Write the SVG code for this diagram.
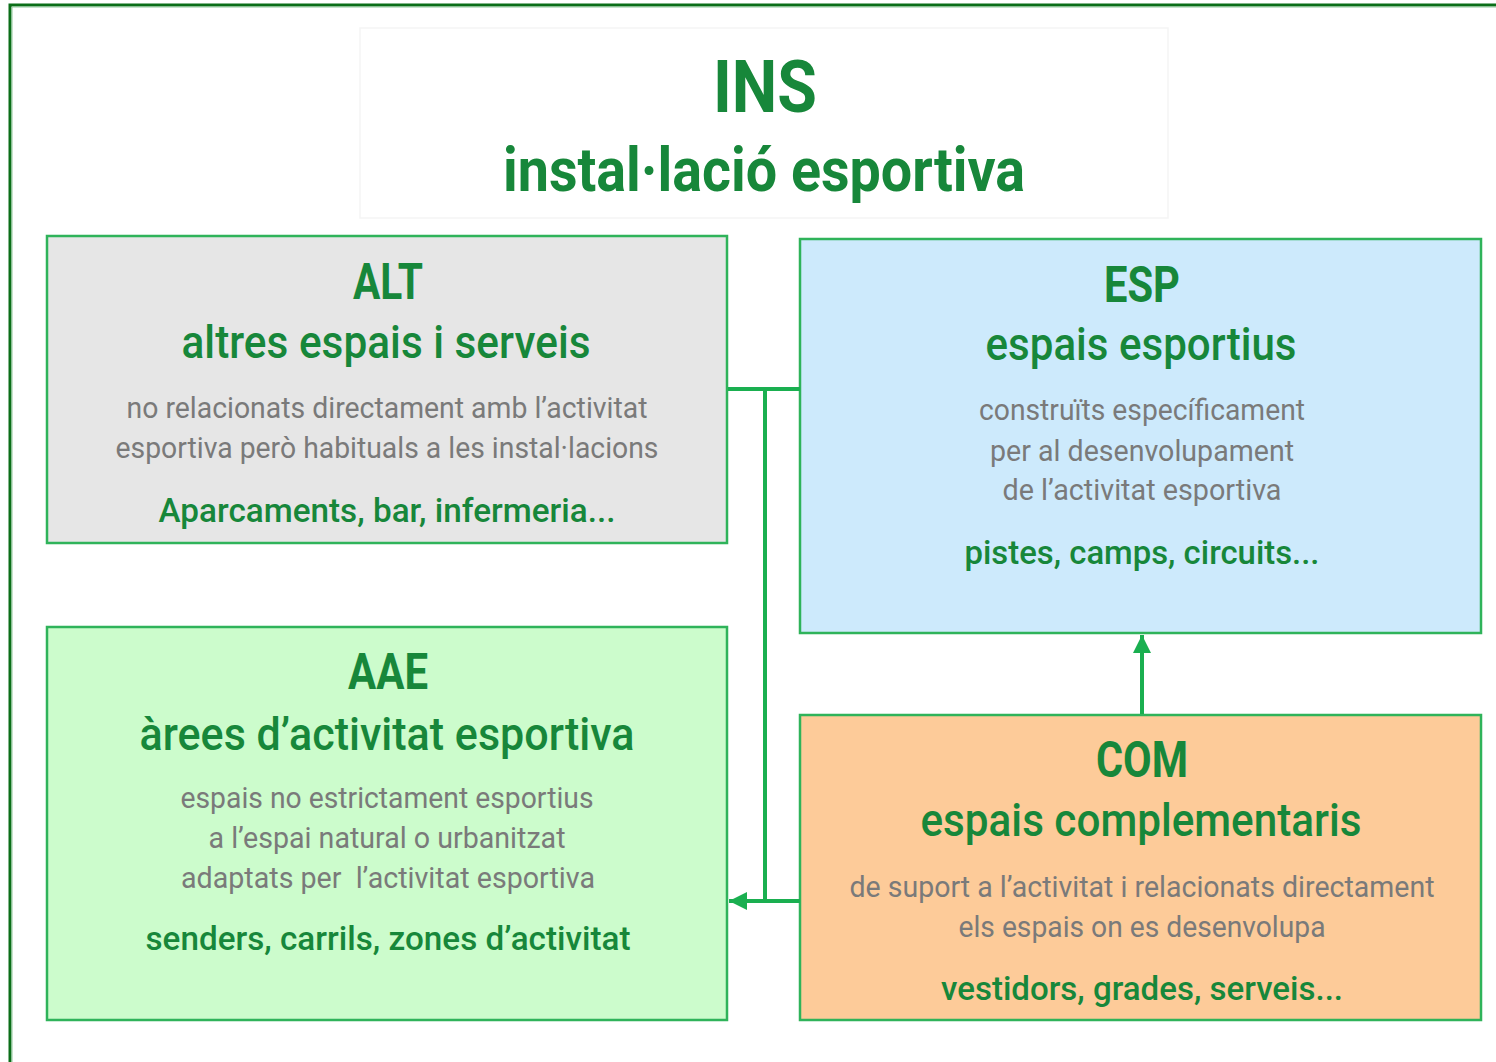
<svg xmlns="http://www.w3.org/2000/svg" width="1496" height="1062" viewBox="0 0 1496 1062">
<style>
.box{stroke:#2fb35a;stroke-width:2.5}
.h{font-family:Roboto,"Liberation Sans",sans-serif;font-weight:bold;fill:#17873a;text-anchor:middle}
.s{font-family:Roboto,"Liberation Sans",sans-serif;font-weight:500;fill:#17873a;text-anchor:middle}
.g{font-family:Roboto,"Liberation Sans",sans-serif;fill:#7a7a7a;text-anchor:middle;font-size:30px}
.e{font-family:Roboto,"Liberation Sans",sans-serif;font-weight:500;fill:#17873a;text-anchor:middle;font-size:34px}
.c{stroke:#1aaf50;stroke-width:4;fill:none}
</style>
<defs>
<marker id="ar" viewBox="0 0 10 10" refX="10" refY="5" markerWidth="4.5" markerHeight="4.5" orient="auto" markerUnits="strokeWidth">
<path d="M0,0 L10,5 L0,10 z" fill="#1aaf50"/>
</marker>
</defs>
<rect width="1496" height="1062" fill="#fff"/>
<path d="M10,1062 V5 H1496" fill="none" stroke="#0b6e18" stroke-width="3"/>
<path d="M12,1062 V7 H1496" fill="none" stroke="#8fc79a" stroke-width="1"/>

<g id="ins">
<rect x="360" y="28" width="808" height="190" fill="#fff" stroke="#f5f5f5" stroke-width="1.5"/>
<text class="h" x="765" y="112" font-size="72" textLength="104" lengthAdjust="spacingAndGlyphs">INS</text>
<text class="h" x="764" y="191" font-size="62" textLength="522" lengthAdjust="spacingAndGlyphs">instal·lació esportiva</text>
</g>

<g id="alt">
<rect class="box" x="47" y="236" width="680" height="307" fill="#e6e6e6"/>
<text class="h" x="388" y="299" font-size="50" textLength="70" lengthAdjust="spacingAndGlyphs">ALT</text>
<text class="s" x="386" y="358" font-size="46" textLength="409" lengthAdjust="spacingAndGlyphs">altres espais i serveis</text>
<text class="g" x="387" y="418" textLength="521" lengthAdjust="spacingAndGlyphs">no relacionats directament amb l’activitat</text>
<text class="g" x="387" y="458" textLength="543" lengthAdjust="spacingAndGlyphs">esportiva però habituals a les instal·lacions</text>
<text class="e" x="387" y="522" textLength="457" lengthAdjust="spacingAndGlyphs">Aparcaments, bar, infermeria...</text>
</g>

<g id="esp">
<rect class="box" x="800" y="239" width="681" height="394" fill="#cdeafc"/>
<text class="h" x="1142" y="302" font-size="50" textLength="76" lengthAdjust="spacingAndGlyphs">ESP</text>
<text class="s" x="1141" y="360" font-size="46" textLength="311" lengthAdjust="spacingAndGlyphs">espais esportius</text>
<text class="g" x="1142" y="420" textLength="326" lengthAdjust="spacingAndGlyphs">construïts específicament</text>
<text class="g" x="1142" y="461" textLength="304" lengthAdjust="spacingAndGlyphs">per al desenvolupament</text>
<text class="g" x="1142" y="500" textLength="279" lengthAdjust="spacingAndGlyphs">de l’activitat esportiva</text>
<text class="e" x="1142" y="564" textLength="355" lengthAdjust="spacingAndGlyphs">pistes, camps, circuits...</text>
</g>

<g id="aae">
<rect class="box" x="47" y="627" width="680" height="393" fill="#ccfccc"/>
<text class="h" x="388" y="689" font-size="50" textLength="80" lengthAdjust="spacingAndGlyphs">AAE</text>
<text class="s" x="387" y="750" font-size="46" textLength="495" lengthAdjust="spacingAndGlyphs">àrees d’activitat esportiva</text>
<text class="g" x="387" y="808" textLength="413" lengthAdjust="spacingAndGlyphs">espais no estrictament esportius</text>
<text class="g" x="387" y="848" textLength="357" lengthAdjust="spacingAndGlyphs">a l’espai natural o urbanitzat</text>
<text class="g" x="388" y="888" textLength="414" lengthAdjust="spacingAndGlyphs" xml:space="preserve">adaptats per  l’activitat esportiva</text>
<text class="e" x="388" y="950" textLength="485" lengthAdjust="spacingAndGlyphs">senders, carrils, zones d’activitat</text>
</g>

<g id="com">
<rect class="box" x="800" y="715" width="681" height="305" fill="#fdcb99"/>
<text class="h" x="1142" y="777" font-size="50" textLength="92" lengthAdjust="spacingAndGlyphs">COM</text>
<text class="s" x="1141" y="836" font-size="46" textLength="441" lengthAdjust="spacingAndGlyphs">espais complementaris</text>
<text class="g" x="1142" y="897" textLength="585" lengthAdjust="spacingAndGlyphs">de suport a l’activitat i relacionats directament</text>
<text class="g" x="1142" y="937" textLength="367" lengthAdjust="spacingAndGlyphs">els espais on es desenvolupa</text>
<text class="e" x="1142" y="1000" textLength="402" lengthAdjust="spacingAndGlyphs">vestidors, grades, serveis...</text>
</g>

<g id="connectors">
<path class="c" d="M728,389 H800"/>
<path class="c" d="M765,389 V901"/>
<path class="c" d="M800,901 H729" marker-end="url(#ar)"/>
<path class="c" d="M1142,714 V635" marker-end="url(#ar)"/>
</g>
</svg>
